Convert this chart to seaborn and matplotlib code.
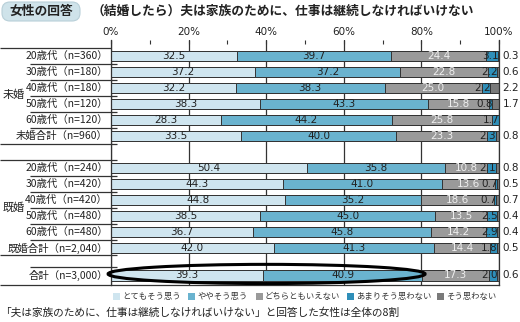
import matplotlib
matplotlib.use("Agg")
import matplotlib.pyplot as plt
import seaborn as sns
import numpy as np
from matplotlib.patches import Ellipse, FancyBboxPatch, Rectangle
from matplotlib.transforms import IdentityTransform

# ---------------- data ----------------
row_labels = ["20歳代（n=360）", "30歳代（n=180）", "40歳代（n=180）", "50歳代（n=120）",
              "60歳代（n=120）", "未婚合計（n=960）",
              "20歳代（n=240）", "30歳代（n=420）", "40歳代（n=420）", "50歳代（n=480）",
              "60歳代（n=480）", "既婚合計（n=2,040）",
              "合計（n=3,000）"]
row_pos = [0, 1, 2, 3, 4, 5, 7, 8, 9, 10, 11, 12, 13.69]
categories = ["とてもそう思う", "ややそう思う", "どちらともいえない", "あまりそう思わない", "そう思わない"]
very = [32.5, 37.2, 32.2, 38.3, 28.3, 33.5, 50.4, 44.3, 44.8, 38.5, 36.7, 42.0, 39.3]
somewhat = [39.7, 37.2, 38.3, 43.3, 44.2, 40.0, 35.8, 41.0, 35.2, 45.0, 45.8, 41.3, 40.9]
neutral = [24.4, 22.8, 25.0, 15.8, 25.8, 23.3, 10.8, 13.6, 18.6, 13.5, 14.2, 14.4, 17.3]
not_much = [3.1, 2.2, 2.2, 0.8, 1.7, 2.3, 2.1, 0.7, 0.7, 2.5, 2.9, 1.8, 2.0]
not_at_all = [0.3, 0.6, 2.2, 1.7, 0.0, 0.8, 0.8, 0.5, 0.7, 0.4, 0.4, 0.5, 0.6]
tick_vals = [0, 20, 40, 60, 80, 100]
tick_labels = ["0%", "20%", "40%", "60%", "80%", "100%"]

colors = ["#cfe5ef", "#6ab3cf", "#9a9a9a", "#2f8fb9", "#7a7a7a"]
JP = ["Noto Sans CJK JP", "DejaVu Sans"]
NUM = ["DejaVu Sans"]

sns.set_theme(style="white")
plt.rcParams["font.family"] = JP

W, H = 520, 322
fig = plt.figure(figsize=(W / 100, H / 100), dpi=100)
L, R, T, B = 111, 499, 40, 285
ax = fig.add_axes([L / W, 1 - B / H, (R - L) / W, (B - T) / H])

series = [very, somewhat, neutral, not_much, not_at_all]
cums = np.cumsum(np.array(series), axis=0)

# layered cumulative bars (largest first)
for k in range(4, -1, -1):
    sns.barplot(x=list(cums[k]), y=row_pos, orient="h", native_scale=True,
                color=colors[k], saturation=1, width=0.68, errorbar=None,
                edgecolor="#333333", linewidth=0.7, ax=ax)

ax.set_xlim(0, 100)
ax.set_ylim(14.31, -1.0)
ax.set_axisbelow(True)
ax.xaxis.grid(True, color="#333333", lw=0.9)
ax.yaxis.grid(False)
ax.set_xlabel("")
ax.set_ylabel("")
ax.set_yticks([])
ax.xaxis.tick_top()
ax.set_xticks(tick_vals)
ax.set_xticklabels(tick_labels, fontfamily=NUM, fontsize=7.5, color="#222222")
ax.set_xticks(np.arange(0, 101, 10), minor=True)
ax.tick_params(axis="x", which="both", direction="in", length=3, width=0.8,
               color="#333333", top=True, bottom=False, pad=2)
for s in ["left", "right", "bottom"]:
    ax.spines[s].set_visible(True)
    ax.spines[s].set_color("#333333")
    ax.spines[s].set_linewidth(0.9)
ax.spines["top"].set_visible(False)

# value labels
for i, y in enumerate(row_pos):
    c = cums[:, i]
    ax.text(c[0] / 2, y, f"{very[i]:.1f}", ha="center", va="center",
            fontsize=7.5, fontfamily=NUM, color="#222222")
    ax.text((c[0] + c[1]) / 2, y, f"{somewhat[i]:.1f}", ha="center", va="center",
            fontsize=7.5, fontfamily=NUM, color="#222222")
    ax.text((c[1] + c[2]) / 2, y, f"{neutral[i]:.1f}", ha="center", va="center",
            fontsize=7.5, fontfamily=NUM, color="#eeeeee")
    ax.text(c[3] + 0.2, y, f"{not_much[i]:.1f}", ha="right", va="center",
            fontsize=7.5, fontfamily=NUM, color="#222222")
    if not_at_all[i] > 0:
        ax.text(100.9, y, f"{not_at_all[i]:.1f}", ha="left", va="center",
                fontsize=7.5, fontfamily=NUM, color="#222222", clip_on=False)

# row labels
ytr = ax.get_yaxis_transform()
def px(xp):
    return (xp - L) / (R - L)
for lab, y in zip(row_labels, row_pos):
    ax.text(px(108), y, lab, ha="right", va="center", fontsize=7.5,
            color="#222222", transform=ytr, clip_on=False)
ax.text(px(14), 2.45, "未婚", ha="center", va="center", fontsize=8,
        color="#222222", transform=ytr, clip_on=False)
ax.text(px(14), 9.5, "既婚", ha="center", va="center", fontsize=8,
        color="#222222", transform=ytr, clip_on=False)

# table lines on the left
lines = [(-0.5, 0, 111)] + [(k + 0.5, 30, 117) for k in range(5)] + \
        [(5.5, 0, 117), (6.5, 0, 117)] + [(k + 0.5, 30, 117) for k in range(7, 12)] + \
        [(12.45, 0, 117), (13.2, 30, 117), (14.31, 0, 111)]
for y, x0, x1 in lines:
    ax.plot([px(x0), px(x1)], [y, y], color="#333333", lw=0.9,
            transform=ytr, clip_on=False, solid_capstyle="butt")

# ellipse around total
ax.add_patch(Ellipse((40.1, 13.62), width=81.7, height=1.2, fill=False,
                     ec="black", lw=2.2, clip_on=False, zorder=6))

# title
fig.add_artist(FancyBboxPatch((2, H - 21), 78, 19,
                              boxstyle="round,pad=0,rounding_size=8",
                              transform=IdentityTransform(),
                              fc="#cfe3ea", ec="#b8cfd8", lw=0.8))
fig.text(41 / W, 1 - 11.5 / H, "女性の回答", ha="center", va="center",
         fontsize=9.2, fontweight="bold", color="#222222")
fig.text(92 / W, 1 - 11.5 / H, "（結婚したら）夫は家族のために、仕事は継続しなければいけない",
         ha="left", va="center", fontsize=9.2, fontweight="bold", color="#222222")

# legend (manual)
leg_x = [113, 188, 256, 347, 437]
for xp, cat, col in zip(leg_x, categories, colors):
    fig.add_artist(Rectangle((xp, H - 300), 7, 7, transform=IdentityTransform(),
                             fc=col, ec="none"))
    fig.text((xp + 9) / W, 1 - 296.5 / H, cat, ha="left", va="center",
             fontsize=6, color="#333333")

# caption
fig.text(0 / W, 1 - 313 / H,
         "「夫は家族のために、仕事は継続しなければいけない」と回答した女性は全体の8割",
         ha="left", va="center", fontsize=7.7, color="#222222")

fig.savefig("out.png", dpi=100)
